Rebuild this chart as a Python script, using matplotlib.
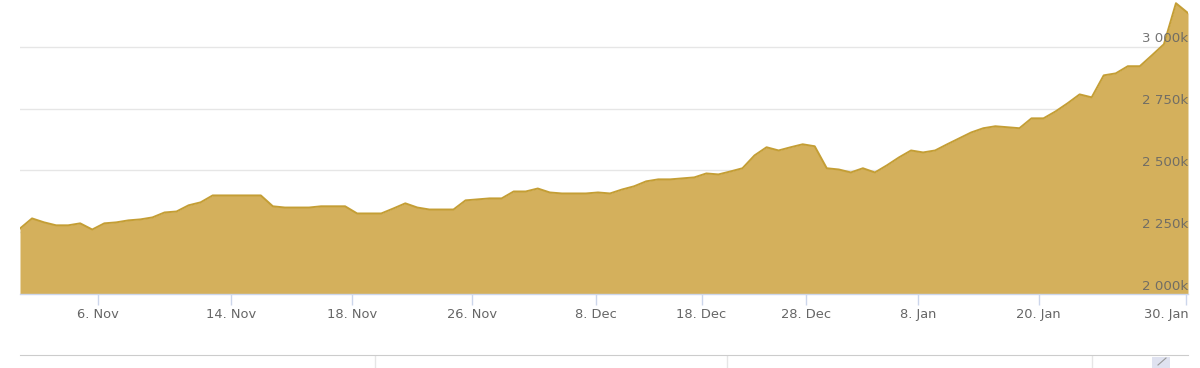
import numpy as np
import matplotlib
matplotlib.use("Agg")
from matplotlib import pyplot as plt
import matplotlib.transforms as mtransforms

# values in thousands, one per point (ordinal axis)
values = [2265, 2306, 2290, 2278, 2278, 2286, 2261, 2286, 2290, 2298,
          2302, 2310, 2330, 2334, 2359, 2371, 2399, 2399, 2399, 2399,
          2399, 2355, 2350, 2350, 2350, 2355, 2355, 2355, 2326, 2326,
          2326, 2346, 2367, 2350, 2342, 2342, 2342, 2379, 2383, 2387,
          2387, 2415, 2415, 2427, 2411, 2407, 2407, 2407, 2411, 2407,
          2423, 2436, 2456, 2464, 2464, 2468, 2472, 2488, 2484, 2496,
          2509, 2561, 2594, 2581, 2594, 2606, 2598, 2509, 2504, 2492,
          2509, 2492, 2521, 2553, 2581, 2573, 2581, 2606, 2630, 2654,
          2671, 2679, 2675, 2671, 2711, 2711, 2739, 2772, 2808, 2796,
          2885, 2893, 2922, 2922, 2966, 3011, 3177, 3137]

tick_labels = ["6. Nov", "14. Nov", "18. Nov", "26. Nov", "8. Dec",
               "18. Dec", "28. Dec", "8. Jan", "20. Jan", "30. Jan"]
tick_pos = [6.5, 17.5, 27.55, 37.57, 47.8, 56.6, 65.3, 74.6, 84.6, 96.8]

y_ticks = [2000, 2250, 2500, 2750, 3000]
y_labels = ["2 000k", "2 250k", "2 500k", "2 750k", "3 000k"]

fill_col = '#d4b05c'
line_col = '#c49e35'
grid_col = '#e6e6e6'
axis_col = '#ccd6eb'
text_col = '#666666'

plt.rcParams['font.family'] = ['DejaVu Sans']

fig = plt.figure(figsize=(12, 3.68), dpi=100)
ax = fig.add_axes([20 / 1200, (368 - 294) / 368, 1168 / 1200, 294 / 368])

x = np.arange(len(values))
ax.fill_between(x, values, 2000, color=fill_col, lw=0, zorder=2)
ax.plot(x, values, color=line_col, lw=1.4, zorder=3, solid_joinstyle='round')

ax.set_xlim(0, len(values) - 1)
ax.set_ylim(2000, 3190)

ax.set_yticks(y_ticks)
ax.yaxis.grid(True, color=grid_col, lw=1)
ax.set_axisbelow(True)
ax.tick_params(axis='y', length=0, labelleft=False)

offset = mtransforms.ScaledTranslation(0, 8 / 100, fig.dpi_scale_trans)
trans = mtransforms.blended_transform_factory(ax.transAxes, ax.transData) + offset
for yv, lab in zip(y_ticks, y_labels):
    ax.text(1.0, yv, lab, transform=trans, ha='right', va='center',
            fontsize=9.6, color=text_col, alpha=0.9, zorder=5)

ax.set_xticks(tick_pos)
ax.set_xticklabels(tick_labels)
ax.tick_params(axis='x', direction='out', length=8, width=1, color=axis_col,
               labelsize=9.4, labelcolor=text_col, pad=2)
# last label is pushed inside the edge, as in the original
last = ax.get_xticklabels()[-1]
last.set_horizontalalignment('right')
last.set_transform(last.get_transform() +
                   mtransforms.ScaledTranslation(3 / 100, 0, fig.dpi_scale_trans))

for s in ['top', 'right', 'left']:
    ax.spines[s].set_visible(False)
ax.spines['bottom'].set_color(axis_col)
ax.spines['bottom'].set_linewidth(1)

# navigator strip at the bottom
nav = fig.add_axes([20 / 1200, 0, 1168 / 1200, 13 / 368])
nav.set_xlim(0, 1168)
nav.set_ylim(0, 13)
for s in ['bottom', 'right', 'left']:
    nav.spines[s].set_visible(False)
nav.spines['top'].set_color('#cccccc')
nav.set_xticks([])
nav.set_yticks([])
for px in [355, 707, 1072]:
    nav.axvline(px, color='#e6e6e6', lw=1)
nav.axvspan(1132, 1150, ymin=0, ymax=0.85, color='#dfe2f0', lw=0)
nav.plot([1138, 1146], [3, 10], color='#999999', lw=0.8)

fig.savefig('out.png', dpi=100)
